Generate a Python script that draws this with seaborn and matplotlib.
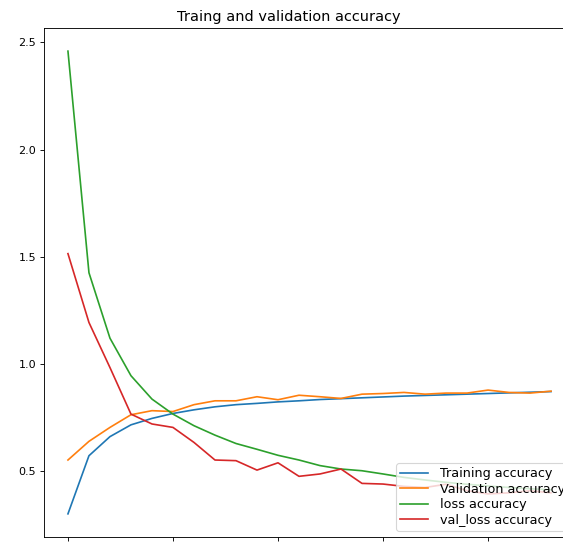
import numpy as np
import pandas as pd
import matplotlib
matplotlib.use('Agg')
import matplotlib.pyplot as plt
import seaborn as sns

# --- data (24 epochs) ---
epochs = list(range(24))
train_acc = [0.302, 0.573, 0.662, 0.717, 0.747, 0.770, 0.787, 0.801, 0.811, 0.817,
             0.824, 0.829, 0.835, 0.839, 0.843, 0.847, 0.851, 0.854, 0.857, 0.860,
             0.863, 0.866, 0.869, 0.872]
val_acc = [0.553, 0.640, 0.705, 0.764, 0.783, 0.779, 0.811, 0.829, 0.829, 0.848,
           0.834, 0.855, 0.848, 0.840, 0.860, 0.863, 0.868, 0.860, 0.865, 0.865,
           0.879, 0.868, 0.865, 0.874]
loss = [2.459, 1.426, 1.121, 0.946, 0.837, 0.767, 0.713, 0.669, 0.630, 0.603,
        0.575, 0.553, 0.527, 0.511, 0.503, 0.488, 0.472, 0.460, 0.449, 0.440,
        0.432, 0.425, 0.419, 0.414]
val_loss = [1.515, 1.194, 0.984, 0.767, 0.721, 0.705, 0.635, 0.553, 0.550, 0.506,
            0.540, 0.477, 0.488, 0.511, 0.444, 0.441, 0.430, 0.425, 0.440, 0.410,
            0.395, 0.400, 0.410, 0.400]

series = [
    ('Training accuracy', train_acc),
    ('Validation accuracy', val_acc),
    ('loss accuracy', loss),
    ('val_loss accuracy', val_loss),
]
colors = ['#1f77b4', '#ff7f0e', '#2ca02c', '#d62728']

# --- figure (axes runs past the right edge like the cropped screenshot) ---
fig = plt.figure(figsize=(563 / 80, 542 / 80), dpi=80)
ax = fig.add_axes([43.8 / 563, 1 - 537 / 542, (575.2 - 43.8) / 563, (537 - 28) / 542])

for (name, vals), c in zip(series, colors):
    df = pd.DataFrame({'epoch': epochs, 'value': vals})
    sns.lineplot(data=df, x='epoch', y='value', ax=ax, color=c, label=name)

ax.set_xlabel('')
ax.set_ylabel('')
# x tick labels fall below the cropped screenshot, only the marks show
ax.set_xticks([0, 5, 10, 15, 20])
ax.set_xticklabels([])
ax.set_title('Traing and validation accuracy', fontsize=13, x=0.461)
ax.legend(loc='lower right', fontsize=11.5, labelspacing=0.2,
          borderpad=0.3, handlelength=2.2, handletextpad=0.9)

fig.savefig('out.png', dpi=80)
